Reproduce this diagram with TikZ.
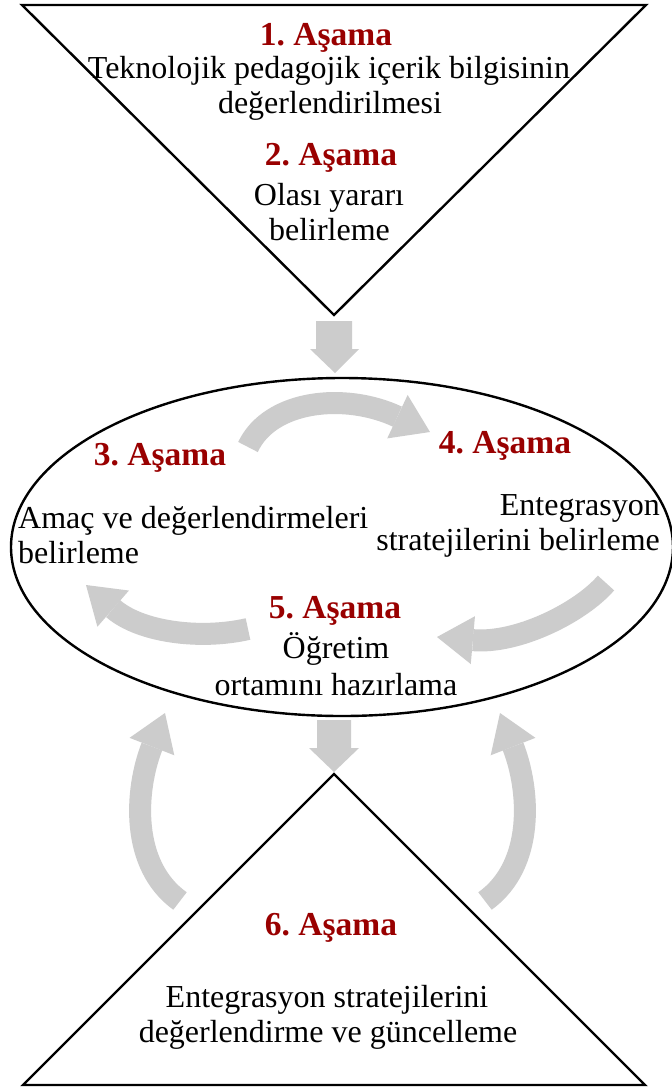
\documentclass[tikz,border=0pt]{standalone}
\usepackage{fontspec}
\setmainfont{Liberation Serif}
\usetikzlibrary{arrows.meta,shapes.geometric}
\definecolor{stagered}{RGB}{153,0,0}
\definecolor{arrowgray}{RGB}{204,204,204}
\frenchspacing
\begin{document}
\begin{tikzpicture}[x=1pt,y=-1pt,
  outline/.style={draw=black,line width=2.4pt},
  stagetitle/.style={anchor=base,inner sep=0pt,text=stagered,font=\fontsize{33.5}{35}\selectfont\bfseries},
  stagetext/.style={anchor=base,inner sep=0pt,font=\fontsize{32}{35}\selectfont},
  curvedarrow/.style={color=arrowgray,line width=22pt,-{Triangle[length=36pt 0 0,width=48pt 0 0,line width=0pt]}},
  blockarrow/.style={fill=arrowgray}]
\fill[white] (0,0) rectangle (672,1088);
\useasboundingbox (0,0) rectangle (672,1088);

% top inverted triangle
\coordinate (ttl) at (22,5);
\coordinate (ttr) at (646,5);
\coordinate (tapex) at (334,315);
\draw[outline] (ttl) -- (ttr) -- (tapex) -- cycle;

% ellipse
\node[outline,ellipse,minimum width=662pt,minimum height=338pt,inner sep=0pt] (ell) at (342,547) {};

% bottom triangle
\coordinate (bapex) at (334,774);
\coordinate (bbl) at (23,1085);
\coordinate (bbr) at (645,1085);
\draw[outline] (bapex) -- (bbr) -- (bbl) -- cycle;

% straight block arrows
\fill[blockarrow] (316,321) -- (352,321) -- (352,349) -- (359,349) -- (335,373) -- (310,349) -- (316,349) -- cycle;
\fill[blockarrow] (317,720) -- (351,720) -- (351,748) -- (359,748) -- (334,772) -- (309,748) -- (317,748) -- cycle;

% curved arrows
\coordinate (c34s) at (248,447);  \coordinate (c34e) at (430,432);
\coordinate (c45s) at (606,583);  \coordinate (c45e) at (437,637);
\coordinate (c53s) at (248,629);  \coordinate (c53e) at (86,585);
\coordinate (c6ls) at (180,901);  \coordinate (c6le) at (165,713);
\coordinate (c6rs) at (485,901);  \coordinate (c6re) at (500,713);
\draw[curvedarrow] (c34s) .. controls (270,400) and (345,392) .. (c34e);
\draw[curvedarrow] (c45s) .. controls (580,613) and (517,644) .. (c45e);
\draw[curvedarrow] (c53s) .. controls (200,640) and (140,632) .. (c53e);
\draw[curvedarrow] (c6ls) .. controls (130,865) and (135,790) .. (c6le);
\draw[curvedarrow] (c6rs) .. controls (535,865) and (530,790) .. (c6re);

% texts
\node[stagetitle] (s1) at (326,45) {1. Aşama};
\node[stagetext] (s1a) at (329,78) {Teknolojik pedagojik içerik bilgisinin};
\node[stagetext] (s1b) at (330,113) {değerlendirilmesi};

\node[stagetitle] (s2) at (331,165) {2. Aşama};
\node[stagetext] (s2a) at (329,205) {Olası yararı};
\node[stagetext] (s2b) at (329.5,240) {belirleme};

\node[stagetitle] (s3) at (160,465) {3. Aşama};
\node[stagetext,anchor=base west] (s3a) at (18,528) {Amaç ve değerlendirmeleri};
\node[stagetext,anchor=base west] (s3b) at (18,563) {belirleme};

\node[stagetitle] (s4) at (505,453) {4. Aşama};
\node[stagetext,anchor=base east] (s4a) at (660,515) {Entegrasyon};
\node[stagetext,anchor=base east] (s4b) at (660,550) {stratejilerini belirleme};

\node[stagetitle] (s5) at (335,618) {5. Aşama};
\node[stagetext] (s5a) at (336,658) {Öğretim};
\node[stagetext] (s5b) at (336,695) {ortamını hazırlama};

\node[stagetitle] (s6) at (331,935) {6. Aşama};
\node[stagetext] (s6a) at (327,1007) {Entegrasyon stratejilerini};
\node[stagetext] (s6b) at (328,1042) {değerlendirme ve güncelleme};
\end{tikzpicture}
\end{document}
